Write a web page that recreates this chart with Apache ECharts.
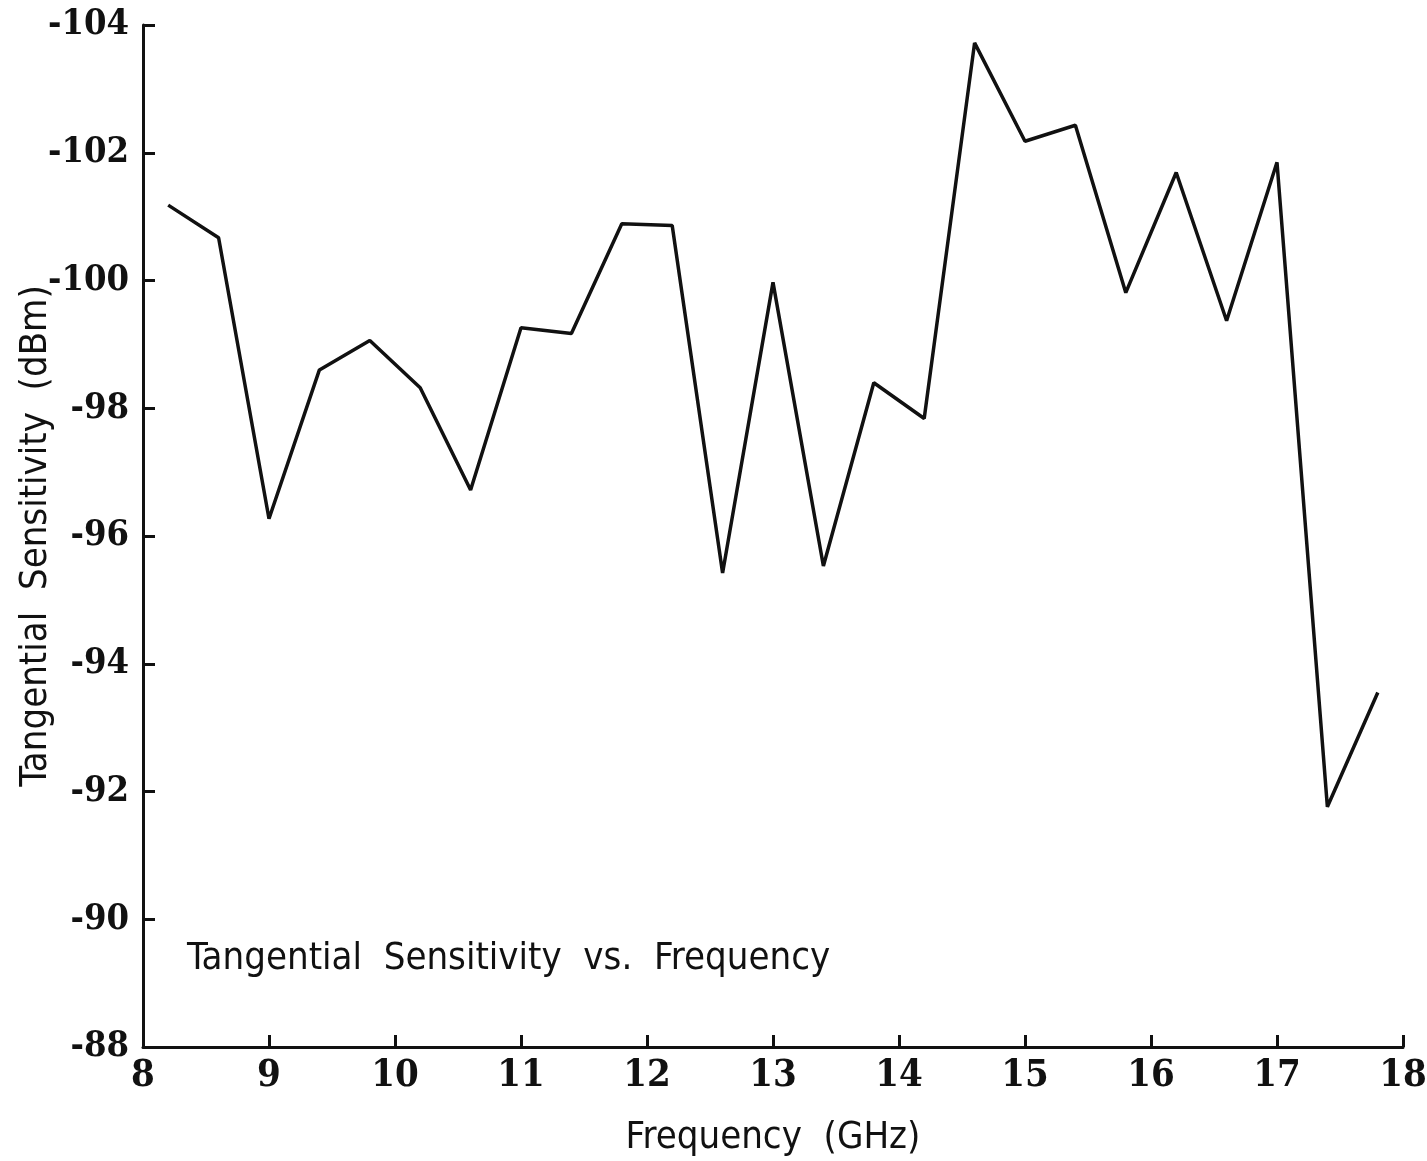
<!DOCTYPE html>
<html>
<head>
<meta charset="utf-8">
<script src="https://cdn.jsdelivr.net/npm/echarts@6/dist/echarts.min.js"></script>
<style>
  html, body { margin: 0; padding: 0; background: #fff; }
  #chart { width: 1427px; height: 1161px; }
</style>
</head>
<body>
<div id="chart"></div>
<script>
// frequency (GHz) and tangential sensitivity (dBm)
const freq = [8.2, 8.6, 9.0, 9.4, 9.8, 10.2, 10.6, 11.0, 11.4, 11.8, 12.2, 12.6, 13.0,
  13.4, 13.8, 14.2, 14.6, 15.0, 15.4, 15.8, 16.2, 16.6, 17.0, 17.4, 17.8];
const tss = [-101.18, -100.67, -96.27, -98.6, -99.06, -98.32, -96.72, -99.26, -99.17,
  -100.89, -100.86, -95.42, -99.97, -95.53, -98.4, -97.84, -103.72, -102.18, -102.43,
  -99.81, -101.69, -99.37, -101.85, -91.76, -93.55];

const labelFont = '"DejaVu Sans Condensed", "DejaVu Sans", sans-serif';
const tickFont = '"DejaVu Serif Condensed", "DejaVu Serif", serif';

const chart = echarts.init(document.getElementById('chart'));
const option = {
  backgroundColor: '#fff',
  animation: false,
  grid: { left: 143, right: 24, top: 25, bottom: 114, outerBoundsMode: 'none' },
  graphic: [
    {
      type: 'text',
      left: 187,
      top: 940,
      style: {
        text: 'Tangential  Sensitivity  vs.  Frequency',
        font: '38px ' + labelFont,
        fill: '#111'
      }
    }
  ],
  xAxis: {
    type: 'value',
    min: 8,
    max: 18,
    interval: 1,
    name: 'Frequency  (GHz)',
    nameLocation: 'middle',
    nameGap: 72,
    nameTextStyle: { fontFamily: labelFont, fontSize: 38, color: '#111' },
    axisLine: { lineStyle: { color: '#111', width: 3 } },
    axisTick: { inside: true, length: 12, lineStyle: { color: '#111', width: 3 } },
    axisLabel: { fontFamily: tickFont, fontWeight: 'bold', fontSize: 38, color: '#111', margin: 10 },
    splitLine: { show: false }
  },
  yAxis: {
    type: 'value',
    inverse: true,
    min: -104,
    max: -88,
    interval: 2,
    name: 'Tangential  Sensitivity  (dBm)',
    nameLocation: 'middle',
    nameGap: 88,
    nameMoveOverlap: false,
    nameTextStyle: { fontFamily: labelFont, fontSize: 38, color: '#111' },
    axisLine: { show: true, lineStyle: { color: '#111', width: 3 } },
    axisTick: { show: true, inside: true, length: 12, lineStyle: { color: '#111', width: 3 } },
    axisLabel: { fontFamily: tickFont, fontWeight: 'bold', fontSize: 36, color: '#111', margin: 14 },
    splitLine: { show: false }
  },
  series: [
    {
      type: 'line',
      data: freq.map((f, i) => [f, tss[i]]),
      showSymbol: false,
      lineStyle: { color: '#111', width: 3.5 }
    }
  ]
};
chart.setOption(option);
</script>
</body>
</html>
